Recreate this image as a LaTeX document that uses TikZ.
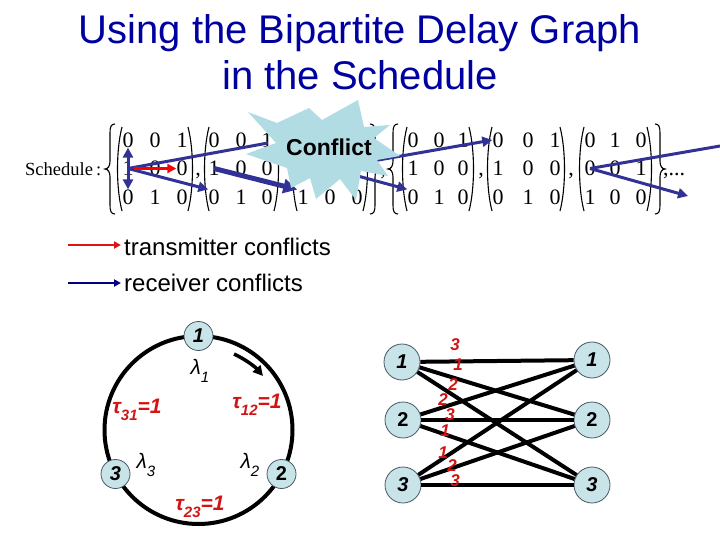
\documentclass[tikz,border=0pt]{standalone}
\usepackage{fontspec}
\setmainfont{Liberation Sans}
\newfontfamily\timesf{Liberation Serif}
\usetikzlibrary{arrows.meta}
\definecolor{titleblue}{RGB}{0,0,160}
\definecolor{arrblue}{RGB}{50,50,150}
\definecolor{legnavy}{RGB}{0,0,128}
\definecolor{legred}{RGB}{220,20,20}
\definecolor{taured}{RGB}{210,20,20}
\definecolor{starblue}{RGB}{178,220,228}
\definecolor{nodefill}{RGB}{200,228,232}
\definecolor{nodeline}{RGB}{70,90,100}
\newcommand\sub[1]{\raisebox{-0.35em}{\fontsize{15}{15}\selectfont #1}}
\newcommand\mrow[9]{\node[dig] (#1r#2c1) at (#4,#3) {#7};\node[dig] (#1r#2c2) at (#5,#3) {#8};\node[dig] (#1r#2c3) at (#6,#3) {#9};}
\newcommand\myLP[1]{\draw[parl] (#1+4,127) .. controls (#1-2,150) and (#1-2,188) .. (#1+4,211);}
\newcommand\myRP[1]{\draw[parl] (#1-4,127) .. controls (#1+2,150) and (#1+2,188) .. (#1-4,211);}
\newcommand\myLB[1]{\draw[parl] (#1+5,124) .. controls (#1+1,124) and (#1,127) .. (#1,133) -- (#1,161) .. controls (#1,166) and (#1-2,169) .. (#1-5,169) .. controls (#1-2,169) and (#1,172) .. (#1,177) -- (#1,205) .. controls (#1,211) and (#1+1,214) .. (#1+5,214);}
\newcommand\myRB[1]{\draw[parl] (#1-5,124) .. controls (#1-1,124) and (#1,127) .. (#1,133) -- (#1,161) .. controls (#1,166) and (#1+2,169) .. (#1+5,169) .. controls (#1+2,169) and (#1,172) .. (#1,177) -- (#1,205) .. controls (#1,211) and (#1-1,214) .. (#1-5,214);}
\begin{document}
\begin{tikzpicture}[x=1pt,y=-1pt,
  dig/.style={font=\timesf\fontsize{22}{22}\selectfont, inner sep=0pt},
  parl/.style={line width=1.1pt},
  barrow/.style={draw=arrblue, line width=3pt, -{Triangle[length=10pt,width=10pt]}},
  bline/.style={draw=arrblue, line width=3pt},
  rarrow/.style={draw=red, line width=3pt, -{Triangle[length=9pt,width=9pt]}},
  titlefont/.style={font=\fontsize{40}{40}\selectfont, text=titleblue, anchor=base},
  legtext/.style={font=\fontsize{24}{24}\selectfont, anchor=base west, inner sep=0pt},
  cnode/.style={circle, minimum size=29pt, inner sep=0pt, fill=nodefill, draw=nodeline, line width=0.8pt, font=\bfseries\fontsize{20}{20}\selectfont},
  bnode/.style={circle, minimum size=36pt, inner sep=0pt, fill=nodefill, draw=nodeline, line width=0.8pt, font=\bfseries\fontsize{20}{20}\selectfont},
  taulab/.style={text=taured, font=\bfseries\itshape\fontsize{21}{21}\selectfont, inner sep=0pt},
  lamlab/.style={font=\itshape\fontsize{21}{21}\selectfont, inner sep=0pt},
  wlab/.style={text=taured, font=\bfseries\itshape\fontsize{17}{17}\selectfont, inner sep=0pt},
  edge/.style={line width=4pt, black}]
\useasboundingbox (0,0) rectangle (720,540);
% title
\node[titlefont] (t1) at (360,44) {Using the Bipartite Delay Graph};
\node[titlefont] (t2) at (360,90) {in the Schedule};
% schedule
\node[font=\timesf\fontsize{18.5}{18.5}\selectfont, anchor=base west, inner sep=0pt] (sched) at (25,176) {Schedule\,:};
\myLB{110}
\mrow{A}{1}{140}{128}{155}{182}{0}{0}{1}
\mrow{A}{2}{168.5}{128}{155}{182}{1}{0}{0}
\mrow{A}{3}{197}{128}{155}{182}{0}{1}{0}
\myLP{118}\myRP{192}
\node[dig, anchor=base] (cm1) at (198,176) {,};
\mrow{B}{1}{140}{214}{241}{267}{0}{0}{1}
\mrow{B}{2}{168.5}{214}{241}{267}{1}{0}{0}
\mrow{B}{3}{197}{214}{241}{267}{0}{1}{0}
\myLP{205}\myRP{278}
\coordinate (Cr2c2) at (330,168.5);
\node[dig] (Cr2c3) at (357,169.5) {1};
\mrow{C}{3}{197}{303}{330}{357}{1}{0}{0}
\myLP{293}\myRP{367}
\myRB{375}
\node[dig, anchor=base] (cm3) at (383,176) {,};
\myLB{393}
\mrow{D}{1}{140}{413}{439}{463}{0}{0}{1}
\mrow{D}{2}{168.5}{413}{439}{463}{1}{0}{0}
\mrow{D}{3}{197}{413}{439}{463}{0}{1}{0}
\myLP{403}\myRP{473}
\node[dig, anchor=base] (cm4) at (481,176) {,};
\mrow{E}{1}{140}{498}{528}{555}{0}{0}{1}
\mrow{E}{2}{168.5}{498}{528}{555}{1}{0}{0}
\mrow{E}{3}{197}{498}{528}{555}{0}{1}{0}
\myLP{488}\myRP{564}
\node[dig, anchor=base] (cm5) at (571,176) {,};
\mrow{F}{1}{140}{590}{615}{641}{0}{1}{0}
\mrow{F}{2}{168.5}{590}{615}{641}{0}{0}{1}
\mrow{F}{3}{197}{590}{615}{641}{1}{0}{0}
\myLP{580}\myRP{651}
\myRB{660}
\node[dig, anchor=base west] (dots) at (663,176) {,...};
% conflict arrows
\coordinate (conf1) at (268,143);
\coordinate (offR) at (720,146);
\coordinate (endF) at (688,196);
\draw[barrow] (Ar2c1.center) -- (Ar1c1.south);
\draw[barrow] (Ar2c1.center) -- (Ar3c1.north);
\draw[bline] (Ar2c1.center) -- (conf1);
\draw[barrow] (Ar2c1.center) -- (Br3c1.north west);
\draw[rarrow] (Ar2c1.east) -- (Ar2c3.west);
\draw[draw=arrblue, line width=5pt, -{Triangle[length=14pt,width=14pt]}] (Br2c1.center) -- (Cr3c1.north west);
\draw[barrow] (Cr2c2) -- (Dr3c1.north west);
\draw[barrow] (Cr2c2) -- (Er1c1.west);
\draw[bline] (Fr2c1.center) -- (offR);
\draw[barrow] (Fr2c1.center) -- (endF);
% star
\fill[starblue] (248,112) -- (277,123) -- (309,108) -- (322,120) -- (358,100) -- (364,127) -- (390,125) -- (374,138) -- (400,156) -- (377,160) -- (388,176) -- (361,171) -- (356,200) -- (340,179) -- (316,199) -- (310,178) -- (291,188) -- (287,168) -- (246,154) -- (276,143) -- cycle;
\node[font=\bfseries\fontsize{23}{23}\selectfont, inner sep=1pt] (conflict) at (329,147) {Conflict};
% legend
\coordinate (lr1) at (68,245);
\coordinate (lr2) at (121,245);
\coordinate (lb1) at (68,283);
\coordinate (lb2) at (121,283);
\draw[draw=legred, line width=2.5pt, -{Triangle[length=7pt,width=7pt]}] (lr1) -- (lr2);
\draw[draw=legnavy, line width=2.5pt, -{Triangle[length=7pt,width=7pt]}] (lb1) -- (lb2);
\node[legtext] (leg1) at (124,255) {transmitter conflicts};
\node[legtext] (leg2) at (124,291) {receiver conflicts};
% ring graph
\node[circle, draw, line width=4pt, minimum size=188pt, inner sep=0pt] (ring) at (198.5,430) {};
\node[cnode] (n1) at (198.5,336) {\itshape 1};
\node[cnode] (n2) at (281.5,474) {2};
\node[cnode] (n3) at (115.5,474) {\itshape 3};
\coordinate (ca) at (234,354);
\coordinate (cb) at (263,376);
\draw[line width=3.5pt, -{Triangle[length=10pt,width=10pt]}] (ca) .. controls (245.1,359.2) and (254.9,366.6) .. (cb);
\node[lamlab] (l1) at (200,371) {λ\sub{1}};
\node[lamlab] (l2) at (250,465) {λ\sub{2}};
\node[lamlab] (l3) at (146,465) {λ\sub{3}};
\node[taulab] (t12) at (257,405) {τ\sub{12}=1};
\node[taulab] (t31) at (137,410) {τ\sub{31}=1};
\node[taulab] (t23) at (200,507) {τ\sub{23}=1};
% bipartite graph
\node[bnode] (L1) at (402,362) {\itshape 1};
\node[bnode] (L2) at (403,420) {2};
\node[bnode] (L3) at (403,485) {\itshape 3};
\node[bnode] (R1) at (592,360) {\itshape 1};
\node[bnode] (R2) at (592,420) {2};
\node[bnode] (R3) at (592,485) {\itshape 3};
\foreach \i in {1,2,3}{\foreach \j in {1,2,3}{\draw[edge] (L\i) -- (R\j);}}
\node[wlab] (w11) at (455,345) {3};
\node[wlab] (w12) at (458,365) {1};
\node[wlab] (w13) at (453,385) {2};
\node[wlab] (w21) at (443,400) {2};
\node[wlab] (w22) at (450,415) {3};
\node[wlab] (w23) at (445,431) {1};
\node[wlab] (w31) at (443,453) {1};
\node[wlab] (w32) at (452,466) {2};
\node[wlab] (w33) at (455,481) {3};
\end{tikzpicture}
\end{document}
